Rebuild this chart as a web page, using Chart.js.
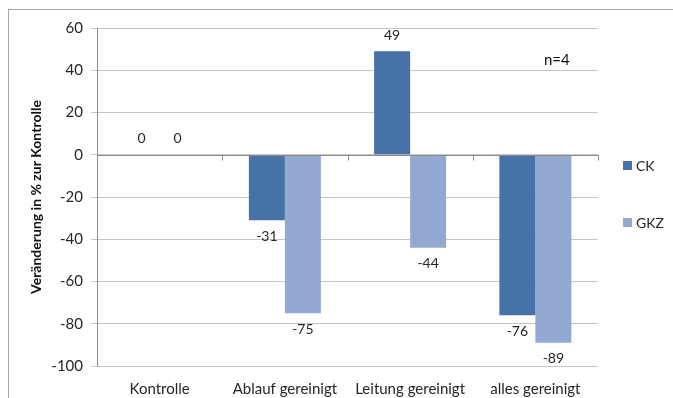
<!DOCTYPE html>
<html>
<head>
<meta charset="utf-8">
<script src="https://cdn.jsdelivr.net/npm/chart.js@4.4.0/dist/chart.umd.min.js"></script>
<style>
  html, body { margin: 0; padding: 0; background: #fff; }
  #wrap { position: relative; width: 673px; height: 398px; }
  #frame { position: absolute; left: 8px; top: 9px; width: 700px; height: 420px;
           border: 1px solid #a6a6a6; box-sizing: border-box; }
  canvas { position: absolute; left: 0; top: 0; }
</style>
</head>
<body>
<div id="wrap">
  <div id="frame"></div>
  <canvas id="c" width="673" height="398"></canvas>
</div>
<script>
const categories = ['Kontrolle', 'Ablauf gereinigt', 'Leitung gereinigt', 'alles gereinigt'];
const ckValues  = [0, -31, 49, -76];
const gkzValues = [0, -75, -44, -89];
const yTicks = { min: -100, max: 60, step: 20 };
const seriesNames = ['CK', 'GKZ'];
const seriesColors = ['#4672A8', '#94A9D1'];
const noteText = 'n=4';
const yTitle = 'Veränderung in % zur Kontrolle';

const FONT = 'Lato, "Liberation Sans", sans-serif';

// value labels at the outer end of each bar
const barLabels = {
  id: 'barLabels',
  afterDatasetsDraw(chart) {
    const ctx = chart.ctx;
    ctx.save();
    ctx.font = '14px ' + FONT;
    ctx.fillStyle = '#262626';
    ctx.textAlign = 'center';
    ctx.textBaseline = 'middle';
    chart.data.datasets.forEach((ds, di) => {
      const meta = chart.getDatasetMeta(di);
      meta.data.forEach((bar, i) => {
        const v = ds.data[i];
        const y = v < 0 ? bar.y + 16 : bar.y - 16;
        ctx.fillText(String(v), bar.x, y);
      });
    });
    ctx.restore();
  }
};

// darker zero line with tick marks at category boundaries, note text, legend
const extras = {
  id: 'extras',
  afterDraw(chart) {
    const ctx = chart.ctx;
    const xs = chart.scales.x, ys = chart.scales.y;
    const y0 = Math.round(ys.getPixelForValue(0)) + 0.5;
    ctx.save();
    ctx.strokeStyle = '#8c8c8c';
    ctx.lineWidth = 1;
    ctx.beginPath();
    ctx.moveTo(xs.left, y0);
    ctx.lineTo(xs.right, y0);
    const n = categories.length;
    for (let i = 0; i <= n; i++) {
      const x = Math.round(xs.left + i * (xs.right - xs.left) / n) + 0.5;
      ctx.moveTo(x, y0);
      ctx.lineTo(x, y0 + 5);
    }
    ctx.stroke();

    ctx.font = '15px ' + FONT;
    ctx.fillStyle = '#111';
    ctx.textAlign = 'left';
    ctx.textBaseline = 'middle';
    ctx.fillText(noteText, 544, 60);

    ctx.font = '14px ' + FONT;
    const legendY = [165, 222];
    seriesNames.forEach((name, i) => {
      ctx.fillStyle = seriesColors[i];
      ctx.fillRect(623, legendY[i] - 4, 9, 9);
      ctx.fillStyle = '#262626';
      ctx.fillText(name, 636, legendY[i] + 1);
    });
    ctx.restore();
  }
};

new Chart(document.getElementById('c'), {
  type: 'bar',
  data: {
    labels: categories,
    datasets: [
      { label: seriesNames[0], data: ckValues, backgroundColor: seriesColors[0] },
      { label: seriesNames[1], data: gkzValues, backgroundColor: seriesColors[1] }
    ]
  },
  options: {
    responsive: false,
    animation: false,
    devicePixelRatio: 1,
    layout: { padding: { left: 8, right: 75, top: 28, bottom: 0 } },
    datasets: { bar: { categoryPercentage: 0.575, barPercentage: 1.0 } },
    plugins: { legend: { display: false }, tooltip: { enabled: false } },
    scales: {
      x: {
        grid: { display: false },
        border: { display: false },
        ticks: { color: '#262626', font: { family: FONT, size: 15 }, padding: 6, maxRotation: 0 },
        afterFit(scale) { scale.height = 32; }
      },
      y: {
        min: yTicks.min, max: yTicks.max,
        ticks: { stepSize: yTicks.step, color: '#262626', font: { family: FONT, size: 15 }, padding: 8 },
        grid: { color: '#c6c6c6', tickLength: 6, drawTicks: true },
        border: { display: true, color: '#8c8c8c' },
        title: { display: true, text: yTitle, color: '#111', font: { family: FONT, size: 14, weight: 'bold' }, padding: { top: 20, bottom: 0 } },
        afterFit(scale) { scale.width = 89; }
      }
    }
  },
  plugins: [barLabels, extras]
});
</script>
</body>
</html>
